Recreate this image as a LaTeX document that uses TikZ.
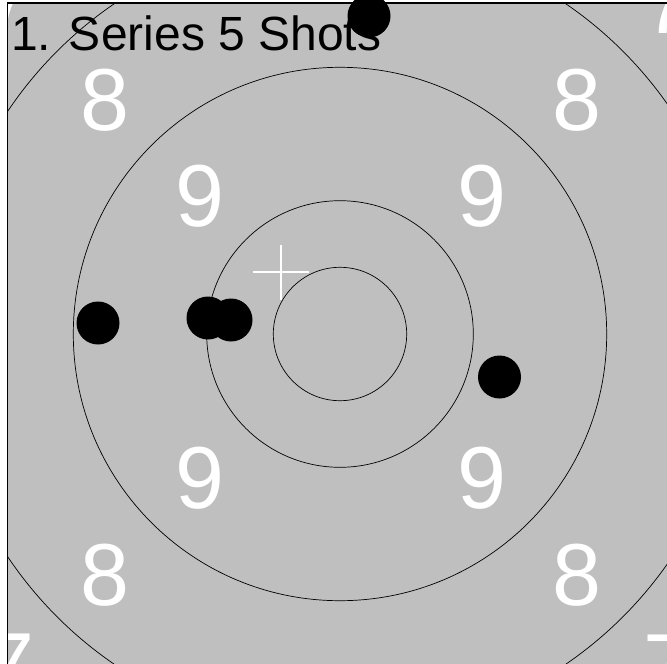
\documentclass[tikz,border=0pt]{standalone}
\usepackage{fontspec}
\setmainfont{Liberation Sans}
\begin{document}
\begin{tikzpicture}[x=1pt,y=-1pt,
  ring/.style={draw=black, line width=0.7pt},
  shot/.style={circle, fill=black, minimum size=43pt, inner sep=0pt},
  num/.style={text=white, inner sep=0pt, font=\fontsize{88}{100}\selectfont},
  title/.style={text=black, inner sep=0pt, anchor=base west, font=\fontsize{48}{58}\selectfont},
  cross/.style={draw=white, line width=2.5pt}]
\useasboundingbox (0,0) rectangle (667,664);
\fill[white] (0,0) rectangle (667,664);
\begin{scope}
\clip (8,3) rectangle (667,664);
\fill[black!25] (8,3) rectangle (667,664);
\coordinate (c) at (340,334);
\draw[ring] (c) circle (66.7);
\draw[ring] (c) circle (133.3);
\draw[ring] (c) circle (266.7);
\draw[ring] (c) circle (400);
\node[num] (n8a) at (105,100) {8};
\node[num] (n8b) at (577,100) {8};
\node[num] (n8c) at (105,575) {8};
\node[num] (n8d) at (577,575) {8};
\node[num] (n9a) at (200,196) {9};
\node[num] (n9b) at (482,196) {9};
\node[num] (n9c) at (200,478) {9};
\node[num] (n9d) at (482,478) {9};
\node[num] (n7a) at (10,664) {7};
\node[num] (n7b) at (668,665) {7};
\node[num] (n7c) at (8,2) {7};
\node[num] (n7d) at (668,3) {7};
\coordinate (ch1) at (253,272);
\coordinate (ch2) at (309,272);
\coordinate (cv1) at (281,245);
\coordinate (cv2) at (281,300);
\draw[cross] (ch1) -- (ch2);
\draw[cross] (cv1) -- (cv2);
\node[title] (t) at (11,50) {1. Series 5 Shots};
\end{scope}
\coordinate (f1) at (7.5,664);
\coordinate (f2) at (7.5,3);
\coordinate (f3) at (667,3);
\draw[black, line width=1.3pt] (f1) -- (f2) -- (f3);
\node[shot] (s1) at (98,323) {};
\node[shot] (s2) at (208,318) {};
\node[shot] (s3) at (231,320) {};
\node[shot] (s4) at (499.5,377) {};
\node[shot] (s5) at (369,16) {};
\end{tikzpicture}
\end{document}
